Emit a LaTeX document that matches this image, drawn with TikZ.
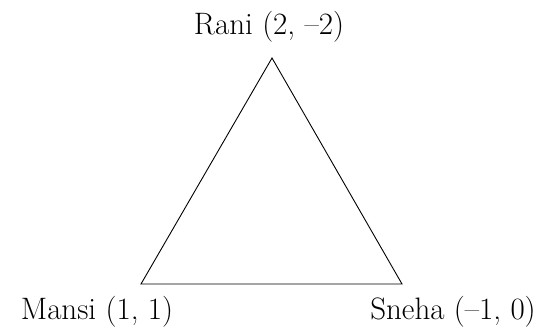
\documentclass[tikz,border=0pt]{standalone}
\begin{document}
\begin{tikzpicture}[x=1pt,y=1pt,
  lbl/.style={inner sep=0pt,font=\fontsize{31}{37}\selectfont},
  edge/.style={line width=0.9pt,line join=miter}]
\useasboundingbox (0,0) rectangle (550,327);
\coordinate (R) at (272,269);
\coordinate (M) at (141,43);
\coordinate (S) at (402,43);
\draw[edge] (R) -- (M) -- (S) -- cycle;
\node[lbl,anchor=base] (rani) at (269,292) {Rani (2, --2)};
\node[lbl,anchor=base] (mansi) at (97,7) {Mansi (1, 1)};
\node[lbl,anchor=base] (sneha) at (453,7) {Sneha (--1, 0)};
\end{tikzpicture}
\end{document}
